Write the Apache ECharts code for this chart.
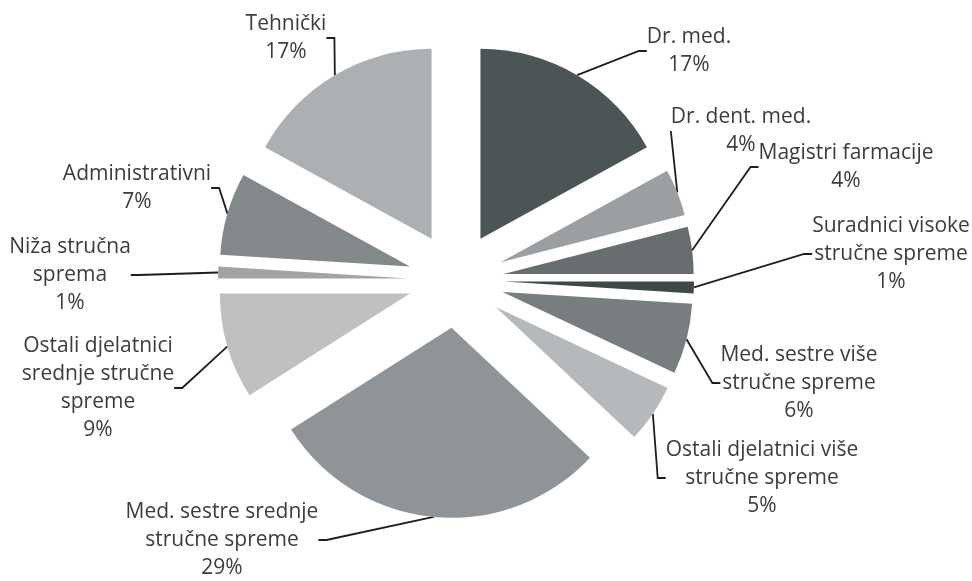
<!DOCTYPE html>
<html>
<head>
<meta charset="utf-8">
<script src="https://cdn.jsdelivr.net/npm/echarts@6/dist/echarts.min.js"></script>
<style>
html,body{margin:0;padding:0;background:#fff;}
#chart{width:972px;height:581px;}
</style>
</head>
<body>
<div id="chart"></div>
<script>
// Categories (clockwise from 12 o'clock)
const categories = [
  'Dr. med.',
  'Dr. dent. med.',
  'Magistri farmacije',
  'Suradnici visoke\nstručne spreme',
  'Med. sestre više\nstručne spreme',
  'Ostali djelatnici više\nstručne spreme',
  'Med. sestre srednje\nstručne spreme',
  'Ostali djelatnici\nsrednje stručne\nspreme',
  'Niža stručna\nsprema',
  'Administrativni',
  'Tehnički'
];
// Share of staff, %
const shares = [17, 4, 4, 1, 6, 5, 29, 9, 1, 7, 17];

// Styling (kept apart from the data)
const sliceColors = ['#4b5556', '#9b9fa1', '#686e70', '#3e4849', '#787d7f', '#b6b9bb',
                     '#8e9497', '#bec0c2', '#a0a4a6', '#83888a', '#acb0b2'];
const labelAnchors = [
  [689, 51], [741, 131], [846, 167], [891, 254], [799, 383], [762, 478],
  [222, 540], [98, 388], [70, 275], [137, 188], [286, 38]
];
const BASE_CENTER = [456, 280];
const RADIUS = 190;
const EXPLODE = 48;

const total = shares.reduce((a, b) => a + b, 0);
let cum = 0;
const series = shares.map((v, k) => {
  const mid = (cum + v / 2) / total * 2 * Math.PI; // clockwise from 12 o'clock
  cum += v;
  const cx = BASE_CENTER[0] + EXPLODE * Math.sin(mid);
  const cy = BASE_CENTER[1] - EXPLODE * Math.cos(mid);
  return {
    type: 'pie',
    center: [cx, cy],
    radius: RADIUS,
    startAngle: 90,
    clockwise: true,
    percentPrecision: 0,
    avoidLabelOverlap: false,
    emphasis: {disabled: true},
    silent: true,
    label: {
      position: 'outside',
      formatter: '{b}\n{d}%',
      fontFamily: 'Open Sans',
      fontSize: 21,
      lineHeight: 28,
      color: '#3c3c3c',
      align: 'center'
    },
    labelLine: {
      length: 10,
      length2: 8,
      smooth: false,
      lineStyle: {color: '#1e1e1e', width: 1.8}
    },
    labelLayout: function (p) {
      const a = labelAnchors[p.dataIndex];
      return {x: a[0], y: a[1], align: 'center', verticalAlign: 'middle'};
    },
    data: categories.map((n, i) => ({
      name: n,
      value: shares[i],
      label: {show: i === k},
      labelLine: {show: i === k},
      itemStyle: {color: i === k ? sliceColors[i] : 'rgba(0,0,0,0)', borderWidth: 0}
    }))
  };
});

const chart = echarts.init(document.getElementById('chart'), null, {renderer: 'canvas'});
chart.setOption({
  animation: false,
  backgroundColor: '#ffffff',
  series: series
});
</script>
</body>
</html>
